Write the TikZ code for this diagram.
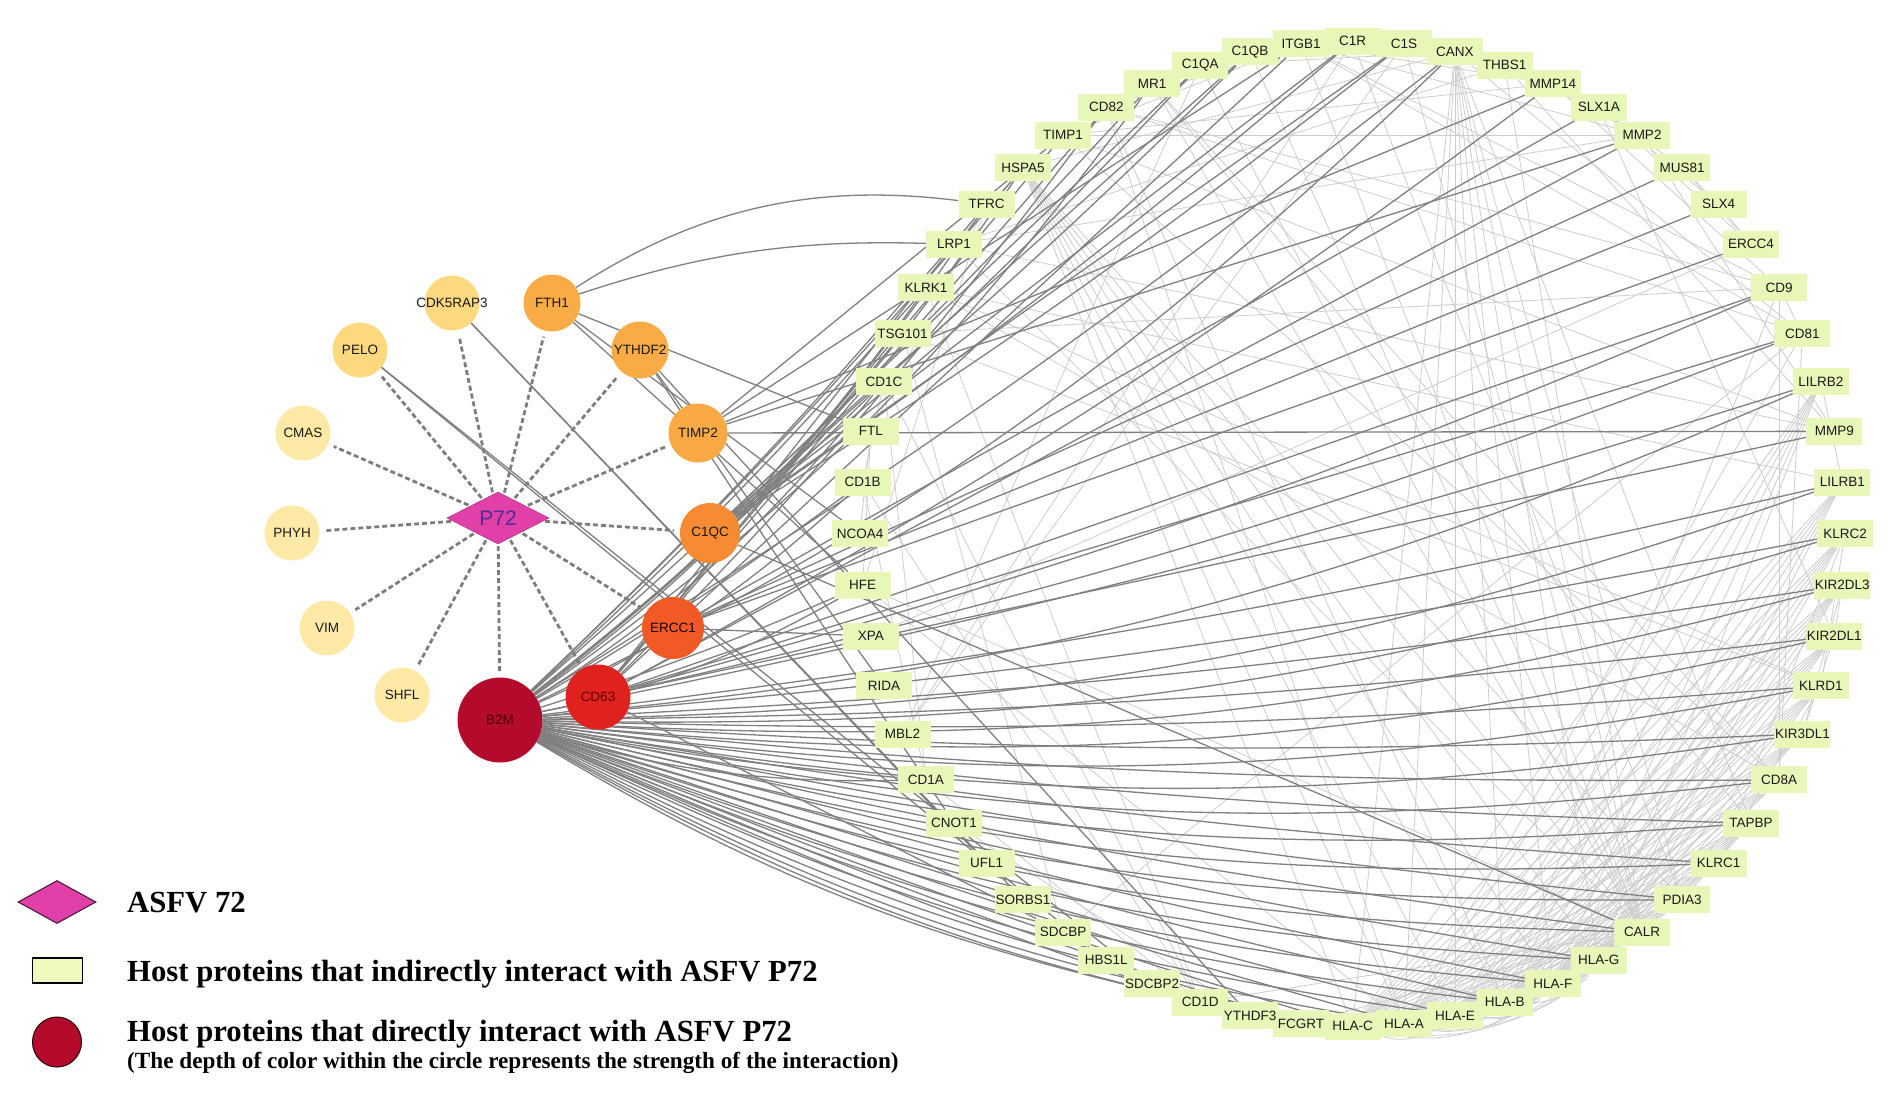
\documentclass[tikz,border=0pt]{standalone}
\usepackage{fontspec}
\setmainfont{Liberation Sans}
\newfontfamily\lgfont{Liberation Serif}
\usetikzlibrary{shapes.geometric,calc}
\pgfdeclarelayer{bg}
\pgfsetlayers{bg,main}
\definecolor{hostg}{RGB}{232,246,184}
\definecolor{leggr}{RGB}{238,250,190}
\definecolor{pale1}{RGB}{254,234,166}
\definecolor{pale2}{RGB}{252,217,126}
\definecolor{or1}{RGB}{249,172,70}
\definecolor{or2}{RGB}{246,139,51}
\definecolor{rd1}{RGB}{241,90,38}
\definecolor{rd2}{RGB}{224,34,30}
\definecolor{dkred}{RGB}{180,10,44}
\definecolor{dmag}{RGB}{224,64,168}
\definecolor{edgedk}{RGB}{128,128,128}
\definecolor{edgelt}{RGB}{205,205,205}
\definecolor{dashc}{RGB}{125,125,125}
\definecolor{ptxt}{RGB}{80,45,150}
\tikzset{
  hbox/.style={fill=hostg, minimum width=56pt, minimum height=27pt, inner xsep=1pt, inner ysep=0pt},
  hlab/.style={inner sep=0pt, font=\fontsize{13.5}{14}\selectfont, text=black!90},
  dnode/.style={circle, inner sep=0pt, font=\fontsize{13.5}{14}\selectfont, text=black!90},
  lt/.style={draw=edgelt, line width=0.8pt},
  dk/.style={draw=edgedk, line width=1.3pt},
  dsh/.style={draw=dashc, line width=2.8pt, dash pattern=on 5pt off 3pt, shorten >=6pt, shorten <=2pt},
  legtext/.style={anchor=base west, inner sep=0pt, font=\lgfont\bfseries\fontsize{30.7}{32}\selectfont},
  bentR/.style={to path={let \p1=(\tikztostart), \p2=(\tikztotarget),
      \n1={atan2(\y2-\y1,\x2-\x1)},
      \n2={0.3915*100*veclen((\x2-\x1)/100,(\y2-\y1)/100)} in
      .. controls +(\n1-#1:\n2) and +(\n1+180+#1:\n2) .. (\tikztotarget) \tikztonodes}},
}
\begin{document}
\begin{tikzpicture}[x=1pt,y=1pt]
\useasboundingbox (0,0) rectangle (1902,-1096);
\begin{pgfonlayer}{bg}
\fill[white] (0,0) rectangle (1902,-1096);
\end{pgfonlayer}

% ring of host proteins that indirectly interact
\foreach \n/\l [count=\k] in {TFRC/TFRC, LRP1/LRP1, KLRK1/KLRK1, TSG101/TSG101, CD1C/CD1C, FTL/FTL, CD1B/CD1B,
  NCOA4/NCOA4, HFE/HFE, XPA/XPA, RIDA/RIDA, MBL2/MBL2, CD1A/CD1A, CNOT1/CNOT1, UFL1/UFL1, SORBS1/SORBS1,
  SDCBP/SDCBP, HBS1L/HBS1L, SDCBP2/SDCBP2, CD1D/CD1D, YTHDF3/YTHDF3, FCGRT/FCGRT, HLAC/HLA-C, HLAA/HLA-A,
  HLAE/HLA-E, HLAB/HLA-B, HLAF/HLA-F, HLAG/HLA-G, CALR/CALR, PDIA3/PDIA3, KLRC1/KLRC1, TAPBP/TAPBP,
  CD8A/CD8A, KIR3DL1/KIR3DL1, KLRD1/KLRD1, KIR2DL1/KIR2DL1, KIR2DL3/KIR2DL3, KLRC2/KLRC2, LILRB1/LILRB1,
  MMP9/MMP9, LILRB2/LILRB2, CD81/CD81, CD9/CD9, ERCC4/ERCC4, SLX4/SLX4, MUS81/MUS81, MMP2/MMP2,
  SLX1A/SLX1A, MMP14/MMP14, THBS1/THBS1, CANX/CANX, C1S/C1S, C1R/C1R, ITGB1/ITGB1, C1QB/C1QB, C1QA/C1QA,
  MR1/MR1, CD82/CD82, TIMP1/TIMP1, HSPA5/HSPA5} {
  \pgfmathsetmacro\ang{180+6*(\k-8)}
  \node[hbox] (\n) at ({1352.5+492.5*cos(\ang)},{-533.7+492.5*sin(\ang)}) {};
}
\foreach \n/\l in {TFRC/TFRC, LRP1/LRP1, KLRK1/KLRK1, TSG101/TSG101, CD1C/CD1C, FTL/FTL, CD1B/CD1B,
  NCOA4/NCOA4, HFE/HFE, XPA/XPA, RIDA/RIDA, MBL2/MBL2, CD1A/CD1A, CNOT1/CNOT1, UFL1/UFL1, SORBS1/SORBS1,
  SDCBP/SDCBP, HBS1L/HBS1L, SDCBP2/SDCBP2, CD1D/CD1D, YTHDF3/YTHDF3, FCGRT/FCGRT, HLAC/HLA-C, HLAA/HLA-A,
  HLAE/HLA-E, HLAB/HLA-B, HLAF/HLA-F, HLAG/HLA-G, CALR/CALR, PDIA3/PDIA3, KLRC1/KLRC1, TAPBP/TAPBP,
  CD8A/CD8A, KIR3DL1/KIR3DL1, KLRD1/KLRD1, KIR2DL1/KIR2DL1, KIR2DL3/KIR2DL3, KLRC2/KLRC2, LILRB1/LILRB1,
  MMP9/MMP9, LILRB2/LILRB2, CD81/CD81, CD9/CD9, ERCC4/ERCC4, SLX4/SLX4, MUS81/MUS81, MMP2/MMP2,
  SLX1A/SLX1A, MMP14/MMP14, THBS1/THBS1, CANX/CANX, C1S/C1S, C1R/C1R, ITGB1/ITGB1, C1QB/C1QB, C1QA/C1QA,
  MR1/MR1, CD82/CD82, TIMP1/TIMP1, HSPA5/HSPA5}
  \node[hlab] (\n-t) at (\n) {\l};

% viral protein and direct interactors
\node[diamond, fill=dmag, draw=dmag!80!black, line width=0.6pt, minimum width=102pt, minimum height=50pt,
  inner sep=0pt, text=ptxt, font=\fontsize{21}{22}\selectfont] (P72) at (498,-518) {P72};
\node[dnode, fill=pale2, minimum size=55pt] (CDK5RAP3) at (452,-303) {\makebox[0pt]{CDK5RAP3}};
\node[dnode, fill=or1, minimum size=57pt] (FTH1) at (552,-303) {FTH1};
\node[dnode, fill=pale2, minimum size=55pt] (PELO) at (360,-350) {PELO};
\node[dnode, fill=or1, minimum size=57pt] (YTHDF2) at (640,-350) {\makebox[0pt]{YTHDF2}};
\node[dnode, fill=pale1, minimum size=55pt] (CMAS) at (303,-433) {CMAS};
\node[dnode, fill=or1!95!or2, minimum size=59pt] (TIMP2) at (698,-433) {TIMP2};
\node[dnode, fill=pale1, minimum size=55pt] (PHYH) at (292,-533) {PHYH};
\node[dnode, fill=or2, minimum size=60pt] (C1QC) at (710,-533) {C1QC};
\node[dnode, fill=pale1, minimum size=55pt] (VIM) at (327,-628) {VIM};
\node[dnode, fill=rd1, minimum size=62pt, text=black!90!red] (ERCC1) at (673,-628) {ERCC1};
\node[dnode, fill=pale1, minimum size=55pt] (SHFL) at (402,-695) {SHFL};
\node[dnode, fill=rd2, minimum size=65pt, text=red!40!black] (CD63) at (598,-697) {CD63};
\node[dnode, fill=dkred, minimum size=85pt, text=red!30!black] (B2M) at (500,-720) {B2M};

\begin{pgfonlayer}{bg}
% light edges among host proteins
\foreach \h in {HLAA,HLAB,HLAC,HLAE,HLAF,HLAG}
  \foreach \r in {KIR2DL1,KIR2DL3,KIR3DL1,LILRB1,LILRB2,KLRC1,KLRC2,KLRD1,CD8A,CALR,PDIA3,TAPBP,CANX,HSPA5}
    \draw[lt] (\h) -- (\r);
\foreach \a/\b in {HLAA/HLAB, HLAA/HLAC, HLAA/HLAE, HLAA/HLAF, HLAA/HLAG, HLAB/HLAC, HLAB/HLAE, HLAB/HLAF,
  HLAB/HLAG, HLAC/HLAE, HLAC/HLAF, HLAC/HLAG, HLAE/HLAF, HLAE/HLAG, HLAF/HLAG}
  \draw[lt] (\a) to[bend right=25] (\b);
\foreach \a/\b in {KLRC1/KLRD1, KLRC2/KLRD1, KLRC1/KLRC2, KIR2DL1/KIR2DL3, KIR2DL1/KIR3DL1, KIR2DL3/KIR3DL1,
  LILRB1/LILRB2, CALR/PDIA3, CALR/TAPBP, PDIA3/TAPBP, CALR/CANX, PDIA3/CANX, HSPA5/CALR, HSPA5/PDIA3,
  HSPA5/CANX, TAPBP/CANX, C1QA/C1QB, C1QA/C1R, C1QA/C1S, C1QB/C1R, C1QB/C1S, C1R/C1S, MBL2/C1S, MBL2/C1R,
  MBL2/C1QA, C1QA/CALR, C1QB/CALR, THBS1/CALR, LRP1/CALR, MMP2/MMP14, MMP2/TIMP1, MMP9/TIMP1, MMP14/TIMP1,
  THBS1/MMP2, THBS1/MMP9, ITGB1/MMP2, LRP1/MMP9, LRP1/MMP2, THBS1/LRP1, ITGB1/THBS1, ITGB1/CD9, ITGB1/CD81,
  CD9/CD81, CD81/CD82, CD9/CD82, ITGB1/CD82, ITGB1/TIMP1, MMP9/MMP2, MMP14/ITGB1, CD9/TSG101, CD81/SDCBP,
  SDCBP/SDCBP2, SDCBP/TSG101, ERCC4/SLX4, SLX4/MUS81, SLX4/SLX1A, MUS81/ERCC4, XPA/ERCC4, ERCC4/SLX1A,
  MUS81/SLX1A, FTL/NCOA4, FTL/TFRC, HFE/TFRC, HFE/FTL, YTHDF3/CNOT1, CD1A/CD1B, CD1A/CD1C, CD1A/CD1D,
  CD1B/CD1C, CD1B/CD1D, CD1C/CD1D, KLRK1/KLRD1, KLRK1/CD8A, MR1/CD8A, MR1/CALR, MR1/TAPBP, HFE/HLAA,
  FCGRT/HLAC, FCGRT/CALR, CD1D/CALR, CD1D/KLRK1, HFE/CALR, CD8A/CD9, CD81/CD8A, CD81/HLAA, CD9/HLAB,
  TSG101/KLRD1, KLRK1/LILRB1, THBS1/CANX, CANX/C1QA, C1S/CALR, C1R/PDIA3, ITGB1/CALR, CD82/HLAA,
  CD82/HLAB, TIMP1/CD8A, HSPA5/LRP1, HSPA5/TIMP1, CANX/CD81, MMP14/CD9, SLX1A/KIR2DL1}
  \draw[lt] (\a) -- (\b);

% dark edges from direct interactors
\foreach \t in {HFE, MR1, CD1A, CD1B, CD1C, CD1D, FCGRT, HLAC, HLAA, HLAE, HLAB, HLAF, HLAG, CALR, PDIA3,
  KLRC1, TAPBP, CD8A, KIR3DL1, KLRD1, KIR2DL1, KIR2DL3, KLRC2, LILRB1, LILRB2, CANX, HSPA5, KLRK1, TFRC} {
  \draw[dk] (B2M) to[bentR=3] (\t);
  \draw[dk] (B2M) to[bentR=9] (\t);
}
\draw[dk] (FTH1) to[bentR=-20] (TFRC);
\draw[dk] (FTH1) to[bentR=-10] (LRP1);
\foreach \t in {FTL, NCOA4, HFE} \draw[dk] (FTH1) -- (\t);
\foreach \t in {YTHDF3, CNOT1, RIDA} \draw[dk] (YTHDF2) -- (\t);
\foreach \t in {UFL1, SORBS1} \draw[dk] (CDK5RAP3) -- (\t);
\foreach \t in {HBS1L, SDCBP2} \draw[dk] (PELO) -- (\t);
\foreach \t in {MMP9, MMP2, MMP14, ITGB1, TIMP1} \draw[dk] (TIMP2) -- (\t);
\foreach \t in {C1QA, C1QB, C1R, C1S, CALR} \draw[dk] (C1QC) -- (\t);
\foreach \t in {C1QA, C1QB, C1R, C1S} \draw[dk] (C1QC) to[bentR=3] (\t);
\foreach \t in {ERCC4, SLX4, MUS81, SLX1A, XPA} \draw[dk] (ERCC1) -- (\t);
\foreach \t in {CD9, CD81, CD82, TIMP1, ITGB1, LRP1, TSG101, SDCBP, MMP9, MMP2} \draw[dk] (CD63) -- (\t);
\foreach \t in {CD9, CD81, MMP14, CD82} \draw[dk] (CD63) to[bentR=4] (\t);

% dashed edges from P72
\foreach \t in {CDK5RAP3, FTH1, PELO, YTHDF2, CMAS, TIMP2, PHYH, C1QC, VIM, ERCC1, SHFL, CD63, B2M}
  \draw[dsh] (P72) -- (\t);
\end{pgfonlayer}

% legend
\node[diamond, fill=dmag, draw=black!70!dmag, line width=1pt, minimum width=78pt, minimum height=43pt,
  inner sep=0pt] (legdia) at (57,-902) {};
\node[draw=black, line width=1.2pt, fill=leggr, minimum width=50pt, minimum height=25pt, inner sep=0pt]
  (legrect) at (57.5,-970.5) {};
\node[ellipse, draw=black!80!dkred, line width=1pt, fill=dkred, minimum width=49pt, minimum height=50pt,
  inner sep=0pt] (legcirc) at (57,-1042) {};
\node[legtext] (lt1) at (127,-912) {ASFV 72};
\node[legtext] (lt2) at (127,-981) {Host proteins that indirectly interact with ASFV P72};
\node[legtext] (lt3) at (127,-1041) {Host proteins that directly interact with ASFV P72};
\node[anchor=base west, inner sep=0pt, font=\lgfont\bfseries\fontsize{23.2}{24}\selectfont] (lt4) at (127,-1068.5)
  {(The depth of color within the circle represents the strength of the interaction)};
\end{tikzpicture}
\end{document}
